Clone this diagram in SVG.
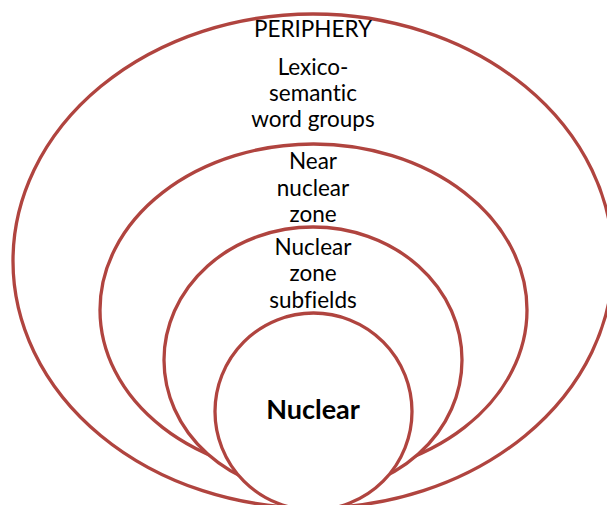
<svg xmlns="http://www.w3.org/2000/svg" width="607" height="505" viewBox="0 0 607 505">
<style>
.zone{fill:#ffffff;stroke:#b0443f;stroke-width:3.3}
.lbl{font-family:Lato,"Open Sans","Liberation Sans",sans-serif;font-size:22.5px;fill:#000;text-anchor:middle;font-variant-ligatures:none}
.core{font-weight:bold;font-size:27px}
</style>
<rect width="607" height="505" fill="#ffffff"/>
<g id="connectors"/>
<g id="periphery">
<ellipse class="zone" cx="313" cy="261" rx="300" ry="247"/>
<text class="lbl" x="313" y="37">PERIPHERY</text>
<text class="lbl" x="313" y="75">Lexico-</text>
<text class="lbl" x="313" y="101">semantic</text>
<text class="lbl" x="313" y="127">word groups</text>
</g>
<g id="near-nuclear">
<ellipse class="zone" cx="313.5" cy="310" rx="213.5" ry="166"/>
<text class="lbl" x="313" y="169">Near</text>
<text class="lbl" x="313" y="196">nuclear</text>
<text class="lbl" x="313" y="222">zone</text>
</g>
<g id="nuclear-subfields">
<ellipse class="zone" cx="313" cy="360" rx="149" ry="133"/>
<text class="lbl" x="313" y="255">Nuclear</text>
<text class="lbl" x="313" y="281">zone</text>
<text class="lbl" x="313" y="308">subfields</text>
</g>
<g id="nuclear">
<ellipse class="zone" cx="313.5" cy="411.5" rx="98.5" ry="98.5"/>
<text class="lbl core" x="313" y="419">Nuclear</text>
</g>
</svg>
